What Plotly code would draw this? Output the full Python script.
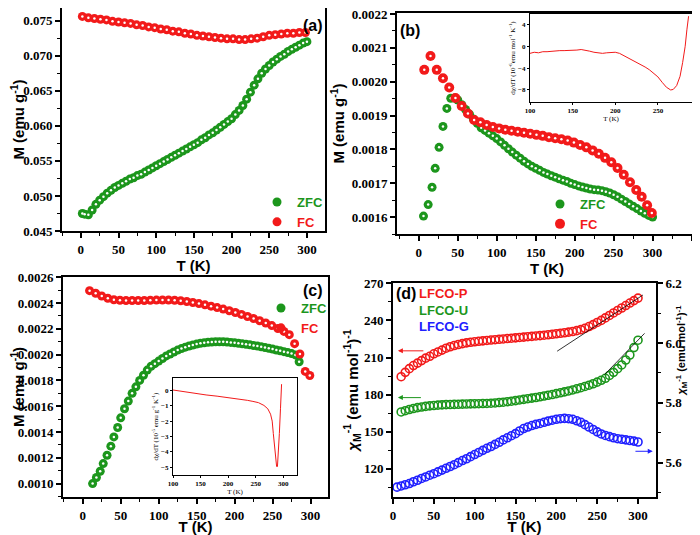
import plotly.graph_objects as go

# the page puts the figure 8 px in from the top-left corner
OFF = 8
FW, FH = 692, 527

# temperature grid used by several curves (K)
grid5 = [10, 15, 20, 25, 30, 35, 40, 45, 50, 55, 60, 65, 70, 75, 80, 85, 90, 95, 100,
         105, 110, 115, 120, 125, 130, 135, 140, 145, 150, 155, 160, 165, 170, 175, 180,
         185, 190, 195, 200, 205, 210, 215, 220, 225, 230, 235, 240, 245, 250, 255, 260,
         265, 270, 275, 280, 285, 290, 295, 300]

# ---- (a) ----
a_zfc_T = [2, 5] + grid5
a_zfc_M = [0.0475, 0.0474, 0.0473, 0.0480, 0.0488, 0.0494, 0.0499, 0.0504, 0.0508, 0.0512,
           0.0515, 0.0518, 0.0521, 0.0524, 0.0526, 0.0529, 0.0531, 0.0534, 0.0537, 0.0540,
           0.0543, 0.0546, 0.0549, 0.0552, 0.0555, 0.0558, 0.0561, 0.0564, 0.0567, 0.0570,
           0.0573, 0.0576, 0.0580, 0.0583, 0.0587, 0.0590, 0.0594, 0.0598, 0.0602, 0.0606,
           0.0610, 0.0616, 0.0622, 0.0629, 0.0638, 0.0648, 0.0658, 0.0667, 0.0675, 0.0681,
           0.0686, 0.0691, 0.0695, 0.0699, 0.0702, 0.0706, 0.0709, 0.0712, 0.0715, 0.0718,
           0.0720]
a_fc_T = [2, 10, 18, 26, 34, 42, 50, 58, 66, 74, 82, 90, 98, 106, 114, 122, 130, 138, 146,
          154, 162, 170, 178, 186, 194, 202, 210, 218, 226, 234, 242, 250, 258, 266, 274,
          282, 290, 298]
a_fc_M = [0.0756, 0.0754, 0.0753, 0.0752, 0.0751, 0.0749, 0.0748, 0.0747, 0.0746, 0.0744,
          0.0743, 0.0741, 0.0740, 0.0738, 0.0737, 0.0735, 0.0734, 0.0732, 0.0731, 0.0729,
          0.0728, 0.0727, 0.0726, 0.0725, 0.0724, 0.0724, 0.0723, 0.0723, 0.0724, 0.0725,
          0.0727, 0.0729, 0.0730, 0.0731, 0.0732, 0.0732, 0.0733, 0.0733]

# ---- (b) ----
b_zfc_T = [6, 12, 17, 21, 26, 31, 36, 41, 46, 50] + grid5[9:]
b_zfc_M = [0.001603, 0.001637, 0.001688, 0.001744, 0.001806, 0.001868, 0.001921, 0.001951,
           0.001952, 0.001946,
           0.001932, 0.001918, 0.001904, 0.001890, 0.001877, 0.001864, 0.001856, 0.001848,
           0.001840, 0.001832, 0.001822, 0.001812, 0.001802, 0.001792, 0.001783, 0.001774,
           0.001765, 0.001757, 0.001750, 0.001744, 0.001738, 0.001732, 0.001727, 0.001722,
           0.001718, 0.001713, 0.001709, 0.001705, 0.001700, 0.001696, 0.001692, 0.001689,
           0.001686, 0.001683, 0.001681, 0.001680, 0.001678, 0.001675, 0.001671, 0.001666,
           0.001660, 0.001653, 0.001646, 0.001639, 0.001632, 0.001625, 0.001618, 0.001611,
           0.001605, 0.001600]
b_fc_T = [7, 15, 23, 31, 39, 47, 55, 63, 71, 79, 87, 95, 103, 111, 119, 127, 135, 143, 151,
          159, 167, 175, 183, 191, 199, 207, 215, 223, 231, 239, 247, 255, 263, 271, 279,
          286, 293, 299]
b_fc_M = [0.002035, 0.002076, 0.002035, 0.002010, 0.001983, 0.001952, 0.001928, 0.001906,
          0.001887, 0.001880, 0.001872, 0.001866, 0.001862, 0.001858, 0.001855, 0.001852,
          0.001849, 0.001846, 0.001843, 0.001840, 0.001836, 0.001833, 0.001830, 0.001826,
          0.001820, 0.001813, 0.001806, 0.001797, 0.001787, 0.001775, 0.001762, 0.001745,
          0.001725, 0.001703, 0.001680, 0.001660, 0.001635, 0.001612]
# inset (b): dchi/dT
ib_T = [100, 105, 110, 115, 120, 125, 130, 135, 140, 145, 150, 155, 160, 165, 170, 175, 180,
        185, 190, 195, 200, 205, 210, 215, 220, 225, 230, 235, 240, 245, 250, 255, 260, 265,
        268, 272, 276, 279, 282, 284, 286]
ib_d = [-1.3, -1.1, -1.2, -1.0, -1.0, -0.9, -0.9, -0.8, -0.8, -0.8, -0.7, -0.7, -0.6, -0.7,
        -0.9, -1.1, -1.2, -1.3, -1.2, -1.1, -1.1, -1.3, -1.7, -2.1, -2.5, -2.9, -3.3, -3.8,
        -4.3, -4.9, -5.6, -6.6, -7.5, -8.0, -7.9, -7.2, -5.5, -3.0, 0.0, 3.0, 5.5]

# ---- (c) ----
c_zfc_T = [13, 18, 23, 27, 32, 37, 41, 46, 50] + grid5[9:56]
c_zfc_M = [0.001000, 0.001047, 0.001096, 0.001155, 0.001220, 0.001290, 0.001362, 0.001435,
           0.001510,
           0.001580, 0.001640, 0.001700, 0.001750, 0.001800, 0.001840, 0.001880, 0.001910,
           0.001930, 0.001950, 0.001970, 0.001990, 0.002005, 0.002020, 0.002035, 0.002047,
           0.002058, 0.002067, 0.002075, 0.002082, 0.002088, 0.002092, 0.002096, 0.002098,
           0.002100, 0.002100, 0.002100, 0.002098, 0.002095, 0.002092, 0.002088, 0.002084,
           0.002080, 0.002076, 0.002071, 0.002066, 0.002061, 0.002055, 0.002049, 0.002043,
           0.002036, 0.002030, 0.002023, 0.002016, 0.002008, 0.001998, 0.001945]
c_fc_T = [9, 17, 25, 33, 41, 49, 57, 65, 73, 81, 89, 97, 105, 113, 121, 129, 137, 145, 153,
          161, 169, 177, 185, 193, 201, 209, 217, 225, 233, 241, 249, 257, 265, 272, 279,
          286, 293, 299]
c_fc_M = [0.002496, 0.002476, 0.002455, 0.002437, 0.002426, 0.002422, 0.002420, 0.002420,
          0.002420, 0.002420, 0.002422, 0.002423, 0.002424, 0.002424, 0.002422, 0.002418,
          0.002412, 0.002404, 0.002396, 0.002386, 0.002376, 0.002365, 0.002353, 0.002340,
          0.002327, 0.002312, 0.002296, 0.002280, 0.002263, 0.002245, 0.002225, 0.002203,
          0.002180, 0.002155, 0.002085, 0.002005, 0.001870, 0.001838]
# inset (c): dchi/dT
ic_T = [100, 120, 140, 160, 180, 200, 220, 235, 245, 255, 265, 272, 277, 280, 282, 284, 286,
        288, 289.5, 291, 293, 295, 297]
ic_d = [0.02, -0.1, -0.2, -0.3, -0.38, -0.47, -0.55, -0.65, -0.72, -0.8, -0.98, -1.2, -1.55,
        -2.0, -2.8, -3.7, -4.5, -4.95, -4.95, -4.2, -2.8, -1.2, 0.4]

# ---- (d) ----
d_T = grid5
d_P = [194.5, 198, 201, 203.5, 205.5, 207.5, 209.5, 211, 213, 214.5, 216, 217.5, 218.7, 219.7,
       220.5, 221.2, 221.8, 222.3, 222.7, 223.1, 223.4, 223.8, 224.1, 224.4, 224.7, 225, 225.3,
       225.6, 225.9, 226.2, 226.5, 226.8, 227.1, 227.4, 227.7, 228, 228.4, 228.8, 229.2, 229.6,
       230, 230.5, 231, 231.7, 232.5, 233.6, 235, 236.6, 238.3, 240, 242, 244, 246, 248, 250,
       252, 254, 256, 258]
d_U = [166, 167, 168, 168.8, 169.5, 170, 170.5, 170.9, 171.2, 171.5, 171.7, 171.9, 172, 172.1,
       172.2, 172.3, 172.4, 172.5, 172.6, 172.7, 172.8, 172.9, 173.1, 173.3, 173.6, 173.9,
       174.3, 174.7, 175.2, 175.7, 176.2, 176.7, 177.2, 177.7, 178.3, 178.9, 179.5, 180.1,
       180.8, 181.5, 182.2, 183, 183.8, 184.7, 185.6, 186.6, 187.6, 188.8, 190.1, 191.6, 193.2,
       195.5, 198, 201, 204, 208, 212, 218, 224]
d_G_T = [5] + grid5
d_G = [5.518, 5.522, 5.526, 5.530, 5.536, 5.541, 5.547, 5.552, 5.558, 5.563, 5.569, 5.575,
       5.581, 5.587, 5.593, 5.600, 5.607, 5.613, 5.620, 5.627, 5.634, 5.641, 5.648, 5.654,
       5.661, 5.668, 5.676, 5.683, 5.690, 5.697, 5.706, 5.714, 5.719, 5.724, 5.728, 5.731,
       5.735, 5.739, 5.742, 5.745, 5.747, 5.748, 5.747, 5.745, 5.740, 5.735, 5.727, 5.719,
       5.711, 5.703, 5.696, 5.691, 5.687, 5.683, 5.680, 5.678, 5.676, 5.674, 5.672, 5.669]
fit1_T = [201, 306]
fit1_chi = [215.1, 260.5]
fit2_T = [259, 308]
fit2_chi = [196.2, 229.5]

GREEN = "#1c961c"
RED = "#f21a1a"
BLUE = "#2020ff"

tick_font = dict(family="Liberation Serif", size=13, color="black", weight="bold")
title_font = dict(family="Liberation Sans", size=15, color="black", weight="bold")
small_tick = dict(family="Liberation Serif", size=7, color="black", weight="bold")
small_title = dict(family="Liberation Serif", size=7, color="black")


def X(px):
    return (px - OFF) / FW


def Y(py):
    return 1 - (py - OFF) / FH


def dx(l, r):
    return [X(l), X(r)]


def dy(t, b):
    return [Y(b), Y(t)]


def main_axis(**kw):
    base = dict(showline=True, linewidth=2, linecolor="black", mirror=True, automargin=False,
                ticks="outside", ticklen=5, tickwidth=1.5, tickcolor="black",
                ticklabeloverflow="allow",
                showgrid=False, zeroline=False, tickfont=tick_font, title_font=title_font)
    base.update(kw)
    return base


def minor(step):
    return dict(ticks="outside", ticklen=3, tickwidth=1, tickcolor="black", dtick=step,
                showgrid=False)


def inset_axis(**kw):
    base = dict(showline=True, linewidth=1, linecolor="black", mirror=True, automargin=False,
                ticks="outside", ticklen=2, tickwidth=0.8, tickcolor="black",
                showgrid=False, zeroline=False, tickfont=small_tick, title_font=small_title)
    base.update(kw)
    return base


fig = go.Figure()


def spheres(T, M, color, xa, ya, name, legend, size):
    fig.add_trace(go.Scatter(x=T, y=M, mode="markers", xaxis=xa, yaxis=ya, legend=legend,
                             name="<span style='color:%s'>%s</span>" % (color, name),
                             marker=dict(color=color, size=size, line=dict(width=0))))
    fig.add_trace(go.Scatter(x=T, y=M, mode="markers", xaxis=xa, yaxis=ya, showlegend=False,
                             hoverinfo="skip", marker=dict(color="white", size=2.5)))


spheres(a_zfc_T, a_zfc_M, GREEN, "x", "y", "ZFC", "legend", 9)
spheres(a_fc_T, a_fc_M, RED, "x", "y", "FC", "legend", 9)
spheres(b_zfc_T, b_zfc_M, GREEN, "x2", "y2", "ZFC", "legend2", 9)
spheres(b_fc_T, b_fc_M, RED, "x2", "y2", "FC", "legend2", 10)
fig.add_trace(go.Scatter(x=ib_T, y=ib_d, mode="lines", xaxis="x3", yaxis="y3", showlegend=False,
                         line=dict(color=RED, width=1)))
spheres(c_zfc_T, c_zfc_M, GREEN, "x4", "y4", "ZFC", "legend3", 9)
spheres(c_fc_T, c_fc_M, RED, "x4", "y4", "FC", "legend3", 9)
fig.add_trace(go.Scatter(x=ic_T, y=ic_d, mode="lines", xaxis="x5", yaxis="y5", showlegend=False,
                         line=dict(color=RED, width=1)))

open_marker = lambda c: dict(symbol="circle-open", color=c, size=8, line=dict(width=1.6, color=c))
fig.add_trace(go.Scatter(x=d_T, y=d_P, mode="markers", xaxis="x6", yaxis="y6", showlegend=False,
                         marker=open_marker(RED)))
fig.add_trace(go.Scatter(x=d_T, y=d_U, mode="markers", xaxis="x6", yaxis="y6", showlegend=False,
                         marker=open_marker(GREEN)))
fig.add_trace(go.Scatter(x=fit1_T, y=fit1_chi, mode="lines", xaxis="x6", yaxis="y6",
                         showlegend=False, line=dict(color="black", width=0.8)))
fig.add_trace(go.Scatter(x=fit2_T, y=fit2_chi, mode="lines", xaxis="x6", yaxis="y6",
                         showlegend=False, line=dict(color="black", width=0.8)))
fig.add_trace(go.Scatter(x=d_G_T, y=d_G, mode="markers", xaxis="x6", yaxis="y7", showlegend=False,
                         marker=open_marker(BLUE)))

M_title = "M (emu g<sup>-1</sup>)"
chi_title = "<i>χ</i><sub>M</sub><sup>-1</sup> (emu mol<sup>-1</sup>)<sup>-1</sup>"

fig.update_layout(
    width=FW, height=FH, margin=dict(l=0, r=0, t=0, b=0, autoexpand=False),
    paper_bgcolor="white", plot_bgcolor="white",
    xaxis=main_axis(domain=dx(62, 325), range=[-25, 324], dtick=50, anchor="y",
                    minor=minor(25), title=dict(text="T (K)", standoff=0)),
    yaxis=main_axis(domain=dy(8, 231), range=[0.045, 0.0768], dtick=0.005, tickformat=".3f",
                    anchor="x", minor=minor(0.0025), title=dict(text=M_title, standoff=1)),
    xaxis2=main_axis(domain=dx(397, 697), range=[-28, 357], dtick=50, anchor="y2",
                     ticklabeloverflow="hide past domain",
                     minor=minor(25), title=dict(text="T (K)", standoff=0)),
    yaxis2=main_axis(domain=dy(13, 234), range=[0.00155, 0.002203], dtick=0.0001,
                     tickformat=".4f", anchor="x2", minor=minor(0.00005),
                     title=dict(text=M_title, standoff=3)),
    xaxis3=inset_axis(domain=dx(530, 692), range=[100, 290], dtick=50, anchor="y3",
                      title=dict(text="T (K)", standoff=0)),
    yaxis3=inset_axis(domain=dy(14, 102), range=[-10.2, 5.9], dtick=4, tick0=0, anchor="x3",
                      title=dict(text="dχ/dT (10<sup>-6</sup>emu mol<sup>-1</sup> K<sup>-1</sup>)",
                                 standoff=1)),
    xaxis4=main_axis(domain=dx(63, 328), range=[-26, 323], dtick=50, anchor="y4",
                     minor=minor(25), title=dict(text="T (K)", standoff=0)),
    yaxis4=main_axis(domain=dy(277, 497), range=[0.000896, 0.002602], dtick=0.0002,
                     tickformat=".4f", anchor="x4", minor=minor(0.0001),
                     title=dict(text=M_title, standoff=1)),
    xaxis5=inset_axis(domain=dx(173, 297), range=[100, 325], dtick=50, anchor="y5",
                      title=dict(text="T (K)", standoff=0)),
    yaxis5=inset_axis(domain=dy(378, 475), range=[-5.5, 0.8], dtick=1, anchor="x5",
                      title=dict(text="dχ/dT (10<sup>-5</sup> emu g<sup>-1</sup> K<sup>-1</sup>)",
                                 standoff=1)),
    xaxis6=main_axis(domain=dx(393, 656), range=[0, 322], dtick=50, anchor="y6",
                     minor=minor(25), title=dict(text="T (K)", standoff=0)),
    yaxis6=main_axis(domain=dy(283, 497), range=[97.3, 270.2], dtick=30, anchor="x6",
                     mirror=False, minor=minor(15), title=dict(text=chi_title, standoff=2)),
    yaxis7=main_axis(domain=dy(283, 497), range=[5.485, 6.201], dtick=0.2, tickformat=".1f",
                     anchor="x6", overlaying="y6", side="right", mirror=False,
                     minor=minor(0.1)),
)

leg = dict(xanchor="left", yanchor="top", bgcolor="rgba(0,0,0,0)", itemsizing="trace",
           font=dict(family="Liberation Sans", size=13, weight="bold"))
fig.update_layout(
    legend=dict(leg, x=X(257), y=Y(187)),
    legend2=dict(leg, x=X(540), y=Y(189)),
    legend3=dict(leg, x=X(261), y=Y(293)),
)

# right-hand axis title, placed by hand so it stays inside the page
fig.add_annotation(x=X(691), y=Y(398), xref="paper", yref="paper", text=chi_title,
                   textangle=-90, showarrow=False,
                   font=dict(family="Liberation Sans", size=11, color="black", weight="bold"))

lab_font = dict(family="Liberation Sans", size=16, color="black", weight="bold")
d_font = dict(family="Liberation Sans", size=13, weight="bold")
fig.add_annotation(x=X(313), y=Y(15), xref="paper", yref="paper", text="(a)",
                   showarrow=False, font=lab_font)
fig.add_annotation(x=X(410), y=Y(20), xref="paper", yref="paper", text="(b)",
                   showarrow=False, font=lab_font)
fig.add_annotation(x=X(313), y=Y(290), xref="paper", yref="paper", text="(c)",
                   showarrow=False, font=lab_font)
fig.add_annotation(x=X(406), y=Y(293), xref="paper", yref="paper", text="(d)",
                   showarrow=False, font=lab_font)
for txt, col, py in [("LFCO-P", RED, 293), ("LFCO-U", GREEN, 310), ("LFCO-G", BLUE, 326)]:
    fig.add_annotation(x=X(417), y=Y(py), xref="paper", yref="paper", text=txt,
                       xanchor="left", showarrow=False, font=dict(d_font, color=col))

# arrows pointing to the axis each curve belongs to
arrow = dict(text="", showarrow=True, arrowhead=2, arrowsize=1, arrowwidth=1)
fig.add_annotation(arrow, x=6, y=215.4, ax=39, ay=215.4, xref="x6", yref="y6",
                   axref="x6", ayref="y6", arrowcolor=RED)
fig.add_annotation(arrow, x=6, y=177.6, ax=36, ay=177.6, xref="x6", yref="y6",
                   axref="x6", ayref="y6", arrowcolor=GREEN)
fig.add_annotation(arrow, x=318, y=5.638, ax=295, ay=5.638, xref="x6", yref="y7",
                   axref="x6", ayref="y7", arrowcolor=BLUE)

fig.write_html("out.html")
